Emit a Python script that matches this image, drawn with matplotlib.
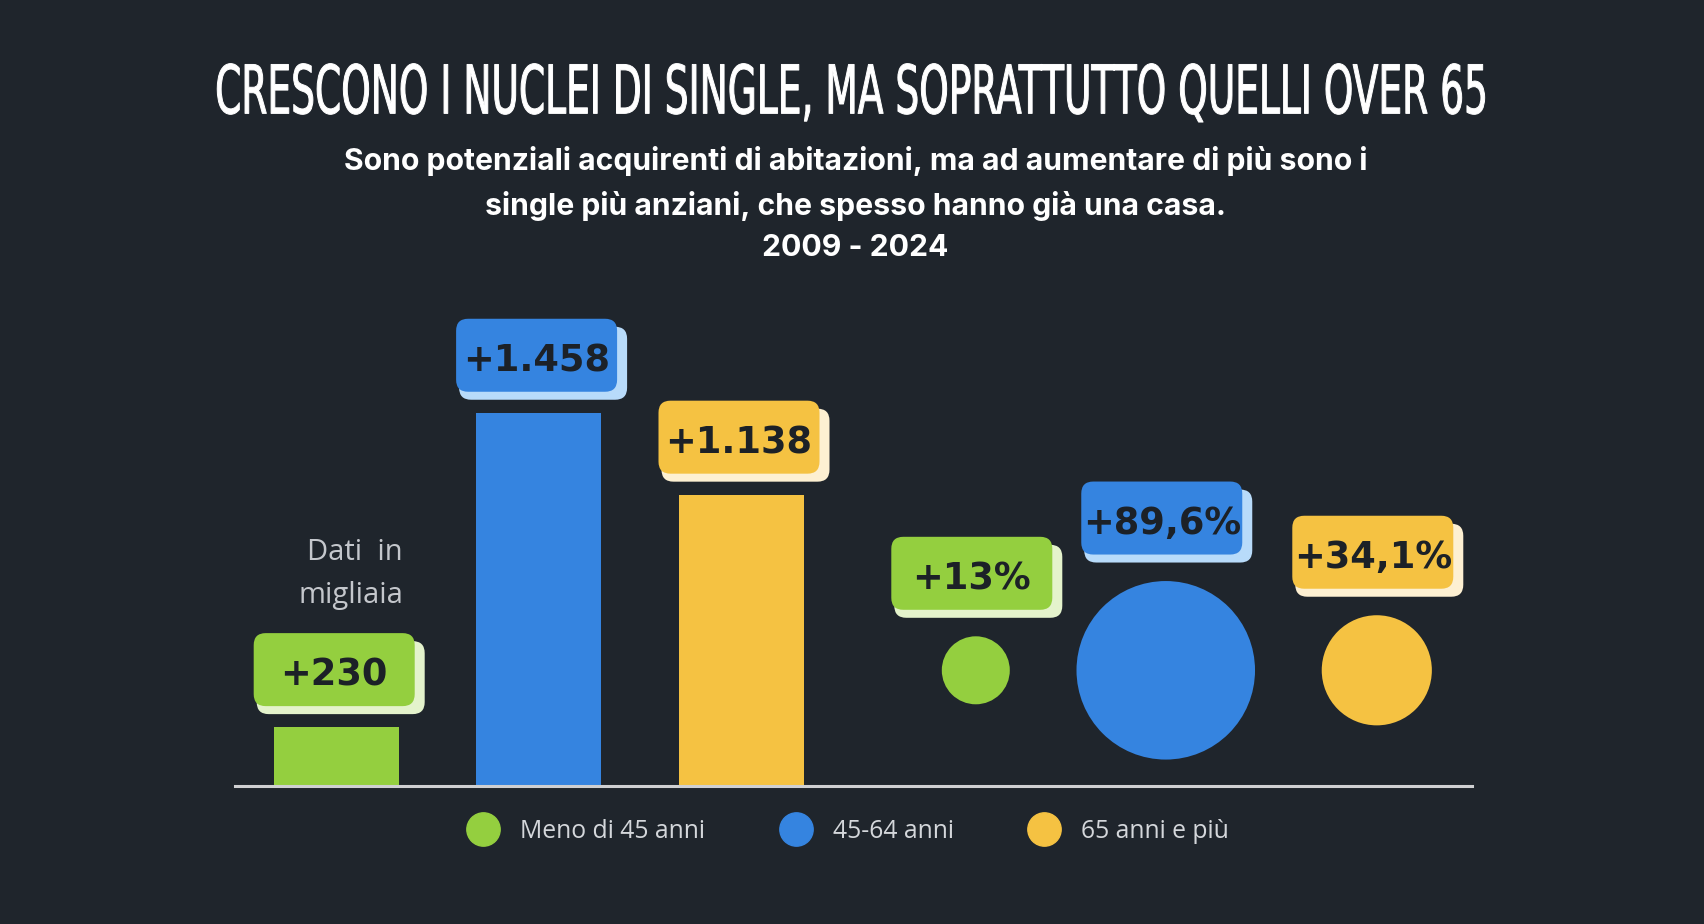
import numpy as np
import matplotlib
matplotlib.use("Agg")
import matplotlib.pyplot as plt
from matplotlib import patheffects
from matplotlib.patches import Circle, FancyBboxPatch
from matplotlib.lines import Line2D
from matplotlib.transforms import Affine2D, IdentityTransform

# data (increase 2009 - 2024 of single-person households)
groups = ["Meno di 45 anni", "45-64 anni", "65 anni e più"]
increase_k = [230, 1458, 1138]            # thousands
increase_k_labels = ["+230", "+1.458", "+1.138"]
increase_pct = [13, 89.6, 34.1]           # percent
increase_pct_labels = ["+13%", "+89,6%", "+34,1%"]

colors = ["#94cf3f", "#3584e0", "#f5c242"]
shades = ["#e4f3cc", "#b8dbfa", "#fdf0d2"]
BG = "#1f252c"
INK = "#1c2127"

title = "CRESCONO I NUCLEI DI SINGLE, MA SOPRATTUTTO QUELLI OVER 65"
subtitle = ("Sono potenziali acquirenti di abitazioni, ma ad aumentare di più sono i\n"
            "single più anziani, che spesso hanno già una casa.\n"
            "2009 - 2024")

# layout, in output pixels measured from the top-left corner
FIG_W, FIG_H = 1704, 924
AX_LEFT, AX_RIGHT, AX_TOP, BASE_Y = 235, 1472, 280, 786
BAR_FIRST, BAR_STEP, BAR_W, BAR_PX_PER_K = 336.2, 202.4, 125, 0.256
BUB_FIRST, BUB_Y, BUB_GAP, BUB_PX = 975.8, 670.3, 66.7, 9.43
TAG_W, TAG_H, TAG_R = 161, 73, 12


class Stretch(patheffects.AbstractPathEffect):
    """Stretch glyphs vertically around a baseline and thicken them a bit
    (poor man's condensed headline face)."""
    def __init__(self, sy, y0, lw=0.7):
        super().__init__()
        self._t = Affine2D().translate(0, -y0).scale(1, sy).translate(0, y0)
        self._lw = lw

    def draw_path(self, renderer, gc, tpath, affine, rgbFace=None):
        gc0 = renderer.new_gc()
        gc0.copy_properties(gc)
        gc0.set_linewidth(self._lw)
        gc0.set_foreground(rgbFace)
        renderer.draw_path(gc0, tpath, affine + self._t, rgbFace)
        gc0.restore()


fig = plt.figure(figsize=(FIG_W / 100, FIG_H / 100), dpi=100, facecolor=BG)
ax_w, ax_h = AX_RIGHT - AX_LEFT, BASE_Y - AX_TOP
rect = [AX_LEFT / FIG_W, (FIG_H - BASE_Y) / FIG_H, ax_w / FIG_W, ax_h / FIG_H]


def tag(ax, x, y, text, fill, shade, gap, dx=0):
    px, py = ax.transData.transform((x, y))
    left, bottom = px + dx - TAG_W / 2, py + gap
    style = f"round,pad=0,rounding_size={TAG_R}"
    fig.add_artist(FancyBboxPatch((left + 3, bottom - 8), TAG_W + 7, TAG_H, boxstyle=style,
                                  fc=shade, ec="none", transform=IdentityTransform()))
    fig.add_artist(FancyBboxPatch((left, bottom), TAG_W, TAG_H, boxstyle=style,
                                  fc=fill, ec="none", transform=IdentityTransform()))
    fig.text(px + dx, bottom + TAG_H / 2 - 16, text, transform=IdentityTransform(),
             ha="center", va="baseline", fontsize=26.5, fontweight="bold",
             family="DejaVu Sans", color=INK)


# bars: absolute increase
ax = fig.add_axes(rect)
x0 = -(BAR_FIRST - AX_LEFT) / BAR_STEP
ax.set_xlim(x0, x0 + ax_w / BAR_STEP)
ax.set_ylim(0, ax_h / BAR_PX_PER_K)
xs = np.arange(len(increase_k))
ax.bar(xs, increase_k, width=BAR_W / BAR_STEP, color=colors, zorder=2)
ax.axhline(0, color="#cfd0d2", lw=2.2, clip_on=False, zorder=3)
ax.axis("off")
for x, v, lab, c, s in zip(xs, increase_k, increase_k_labels, colors, shades):
    tag(ax, x, v, lab, c, s, gap=21, dx=-2)

# bubbles: percent increase, area proportional to the value
bx = fig.add_axes(rect)
bx.axis("off")
radii = np.sqrt(increase_pct)
gap_u = BUB_GAP / BUB_PX
centers = [0.0]
for i in range(1, len(radii)):
    centers.append(centers[-1] + radii[i - 1] + gap_u + radii[i])
bl = -(BUB_FIRST - AX_LEFT) / BUB_PX
bx.set_xlim(bl, bl + ax_w / BUB_PX)
bb = -(BASE_Y - BUB_Y) / BUB_PX
bx.set_ylim(bb, bb + ax_h / BUB_PX)
for c, r, col in zip(centers, radii, colors):
    bx.add_patch(Circle((c, 0), r, color=col, lw=0))
for c, r, lab, col, s in zip(centers, radii, increase_pct_labels, colors, shades):
    tag(bx, c, r, lab, col, s, gap=26.5, dx=-4)

fig.text(403 / FIG_W, 1 - 574 / FIG_H, "Dati  in\nmigliaia", ha="right", va="center",
         multialignment="right", fontsize=21, family="Open Sans", color="#c4c7cc",
         linespacing=1.65)

# title, stretched to mimic the condensed headline face
t = fig.text(850 / FIG_W, 1 - 113 / FIG_H, title, ha="center", va="baseline",
             fontsize=30, color="white",
             family=["Liberation Sans Narrow", "DejaVu Sans Condensed", "DejaVu Sans"])
r = fig.canvas.get_renderer()
t.set_fontsize(30 * 1274 / t.get_window_extent(r).width)
cap = t.get_fontsize() * 100 / 72 * 0.73
t.set_path_effects([Stretch(49 / cap, FIG_H - 112.5)])

fig.text(0.502, 1 - 204 / FIG_H, subtitle, ha="center", va="center", multialignment="center",
         fontsize=21.7, fontweight="bold", family="Inter", color="white", linespacing=1.6)

handles = [Line2D([], [], marker="o", ls="", ms=24, color=c) for c in colors]
fig.legend(handles, groups, loc="center", bbox_to_anchor=(0.497, 1 - 831 / FIG_H), ncol=3,
           frameon=False, handlelength=1.5, handletextpad=0.75, columnspacing=2.9,
           prop={"family": "Open Sans", "size": 17.8}, labelcolor="#d4d7db")

fig.savefig("out.png", dpi=100, facecolor=BG)
